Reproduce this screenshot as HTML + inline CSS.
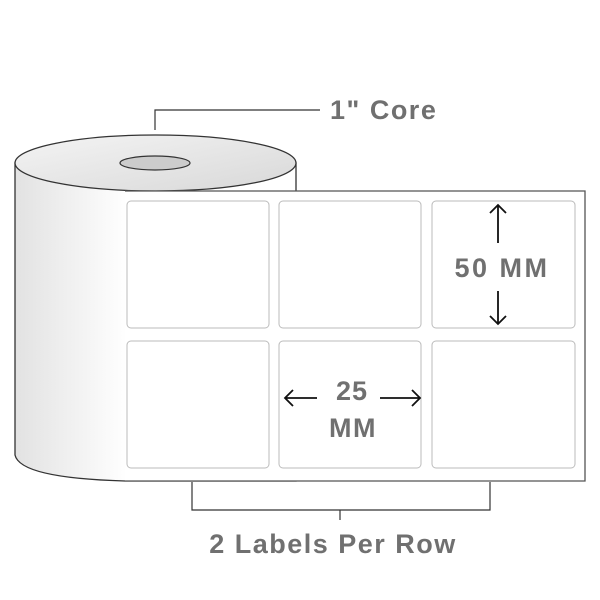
<!DOCTYPE html>
<html><head><style>body{margin:0;background:#fff}svg{display:block}</style></head><body>
<svg width="600" height="600" viewBox="0 0 600 600" xmlns="http://www.w3.org/2000/svg">
<defs>
<linearGradient id="body" x1="0" x2="1" y1="0" y2="0">
<stop offset="0" stop-color="#e2e2e2"/><stop offset="0.4" stop-color="#fff"/><stop offset="1" stop-color="#fff"/>
</linearGradient>
<linearGradient id="top" x1="0" x2="1" y1="0" y2="1">
<stop offset="0" stop-color="#f4f4f4"/><stop offset="1" stop-color="#d8d8d8"/>
</linearGradient>
</defs>
<path d="M15 163 L15 455 Q20 478 125 481 L296 481 L296 163 Z" fill="url(#body)" stroke="#333" stroke-width="1.3"/>
<ellipse cx="155.5" cy="163" rx="140.5" ry="28" fill="url(#top)" stroke="#333" stroke-width="1.3"/>
<ellipse cx="155" cy="163" rx="35" ry="7" fill="#ccc" stroke="#333" stroke-width="1.2"/>
<path d="M125 191 H585 V481 H125" fill="#fff" stroke="#555" stroke-width="1.3"/>
<g fill="#fff" stroke="#bbb" stroke-width="1">
<rect x="127" y="201" width="142" height="127" rx="4"/>
<rect x="279" y="201" width="142" height="127" rx="4"/>
<rect x="432" y="201" width="143" height="127" rx="4"/>
<rect x="127" y="341" width="142" height="127" rx="4"/>
<rect x="279" y="341" width="142" height="127" rx="4"/>
<rect x="432" y="341" width="143" height="127" rx="4"/>
</g>
<path d="M155 130 V110 H320" fill="none" stroke="#333" stroke-width="1.2"/>
<path d="M192 482 V510 H490 V482 M340 510 V520" fill="none" stroke="#333" stroke-width="1.2"/>
<g fill="none" stroke="#111" stroke-width="1.8">
<path d="M498 243 V205 M490 213 L498 205 L506 213"/>
<path d="M498 291 V324 M490 316 L498 324 L506 316"/>
<path d="M285 398 H317 M293 390 L285 398 L293 406"/>
<path d="M380 398 H420 M412 390 L420 398 L412 406"/>
</g>
<g font-family="Liberation Sans, sans-serif" font-weight="bold" fill="#707070" font-size="27">
<text x="330" y="119" letter-spacing="1.5">1" Core</text>
<text x="502" y="277" text-anchor="middle" letter-spacing="2.5">50 MM</text>
<text x="352" y="400" text-anchor="middle" letter-spacing="1">25</text>
<text x="353" y="437" text-anchor="middle" letter-spacing="1.5">MM</text>
<text x="333" y="553" text-anchor="middle" letter-spacing="1.5">2 Labels Per Row</text>
</g>
</svg>
</body></html>
